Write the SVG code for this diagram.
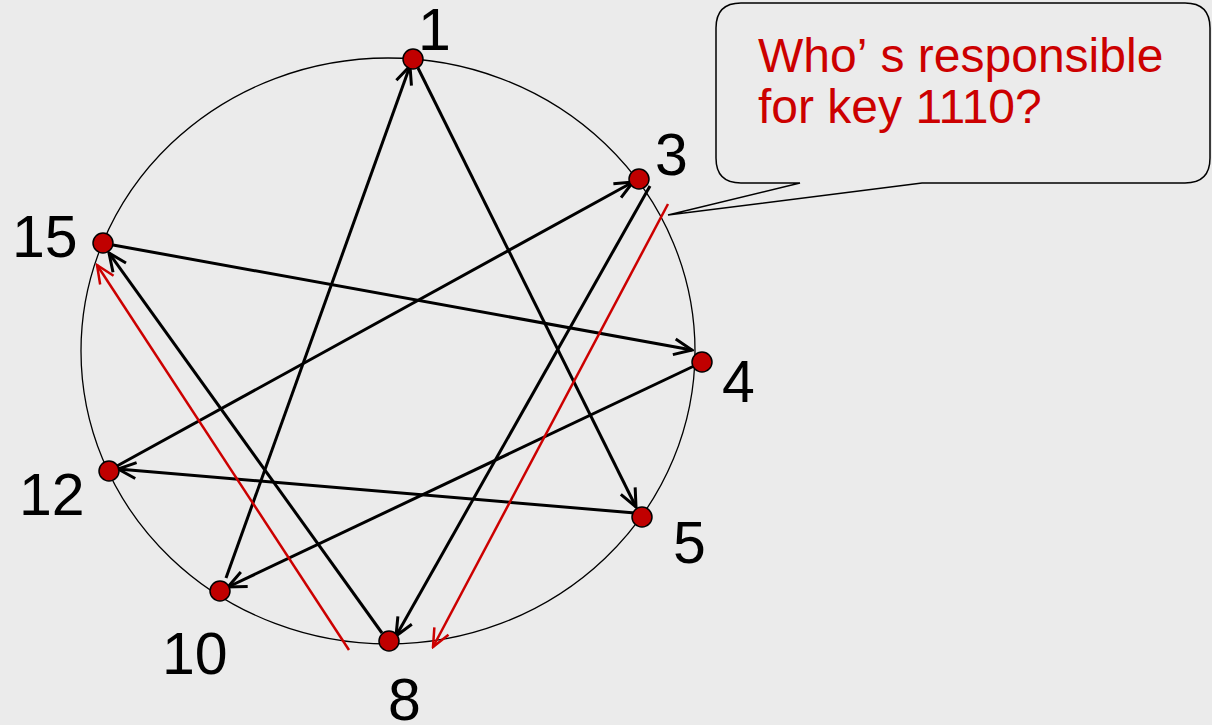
<svg xmlns="http://www.w3.org/2000/svg" width="1212" height="725" viewBox="0 0 1212 725">
<style>
.lbl{font-family:"Liberation Sans",Arial,sans-serif;font-size:59px;fill:#000}
.note{font-family:"Liberation Sans",Arial,sans-serif;font-size:48px;fill:#cc0000}
.blk{stroke:#000;stroke-width:3;fill:none;marker-end:url(#ab)}
.red{stroke:#cc0000;stroke-width:2.5;fill:none;marker-end:url(#ar)}
.node{fill:#c00000;stroke:#000;stroke-width:1.5}
</style>
<defs>
<marker id="ab" markerUnits="userSpaceOnUse" viewBox="0 0 22 22" markerWidth="22" markerHeight="22" refX="20" refY="11" orient="auto">
<path d="M2,3 L20,11 L2,19" fill="none" stroke="#000" stroke-width="3"/>
</marker>
<marker id="ar" markerUnits="userSpaceOnUse" viewBox="0 0 22 22" markerWidth="22" markerHeight="22" refX="20" refY="11" orient="auto">
<path d="M2,3 L20,11 L2,19" fill="none" stroke="#cc0000" stroke-width="2.5"/>
</marker>
</defs>
<rect width="1212" height="725" fill="#ebebeb"/>
<ellipse cx="388" cy="351" rx="307" ry="293" fill="none" stroke="#000" stroke-width="1.3"/>
<g id="connectors">
<line class="blk" x1="226" y1="578" x2="410" y2="66"/>
<line class="blk" x1="418" y1="68" x2="636" y2="507"/>
<line class="blk" x1="117" y1="466" x2="633" y2="182"/>
<line class="blk" x1="650" y1="186" x2="396" y2="636"/>
<line class="blk" x1="113" y1="245" x2="692" y2="350"/>
<line class="blk" x1="694" y1="366" x2="228" y2="587"/>
<line class="blk" x1="635" y1="513" x2="118" y2="469"/>
<line class="blk" x1="382" y1="633" x2="109" y2="253"/>
<line class="red" x1="668" y1="204" x2="433" y2="647"/>
<line class="red" x1="349" y1="650" x2="97" y2="265"/>
</g>
<g id="n1"><circle class="node" cx="413" cy="59" r="10"/><text class="lbl" x="418" y="50">1</text></g>
<g id="n3"><circle class="node" cx="639" cy="179" r="10"/><text class="lbl" x="655" y="175">3</text></g>
<g id="n15"><circle class="node" cx="103" cy="243" r="10"/><text class="lbl" x="12" y="257">15</text></g>
<g id="n4"><circle class="node" cx="702" cy="362" r="10"/><text class="lbl" x="722" y="402">4</text></g>
<g id="n12"><circle class="node" cx="109" cy="471" r="10"/><text class="lbl" x="19" y="515">12</text></g>
<g id="n5"><circle class="node" cx="642" cy="517" r="10"/><text class="lbl" x="673" y="563">5</text></g>
<g id="n10"><circle class="node" cx="220" cy="591" r="10"/><text class="lbl" x="162" y="674">10</text></g>
<g id="n8"><circle class="node" cx="389" cy="641" r="10"/><text class="lbl" x="388" y="720">8</text></g>
<g id="callout">
<path d="M741,3 H1185 Q1210,3 1210,28 V158 Q1210,183 1185,183 H922 L668,215 L800,183 H741 Q716,183 716,158 V28 Q716,3 741,3 Z" fill="none" stroke="#000" stroke-width="1.5"/>
<text class="note" x="758" y="72">Who’<tspan dx="14">s responsible</tspan></text>
<text class="note" x="758" y="123">for key 1110?</text>
</g>
</svg>
